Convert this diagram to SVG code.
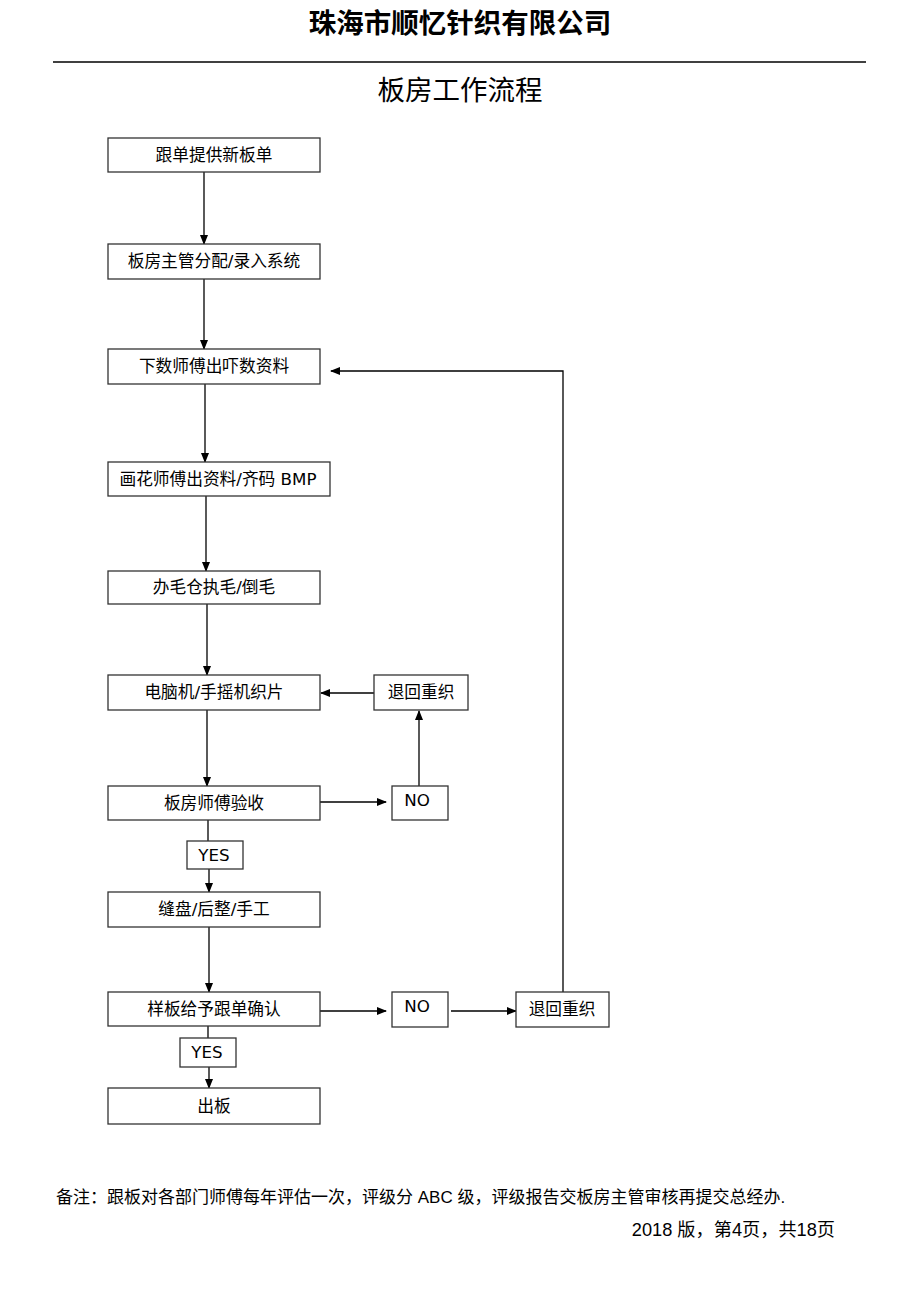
<svg xmlns="http://www.w3.org/2000/svg" width="920" height="1302" viewBox="0 0 920 1302">
<defs>
<marker id="ah" markerWidth="10" markerHeight="10" refX="9" refY="5" orient="auto" markerUnits="userSpaceOnUse">
<path d="M0,1 L10,5 L0,9 Z" fill="#000"/>
</marker>
<style>
.b{fill:#fff;stroke:#333;stroke-width:1.3}
.t{font-family:"DejaVu Sans","Noto Sans CJK SC",sans-serif;font-size:16.7px;fill:#000;text-anchor:middle}
.c{fill:none;stroke:#000;stroke-width:1.3}
.h{font-family:"Noto Sans CJK SC",sans-serif;fill:#000;text-anchor:middle}
.f{font-family:"Liberation Sans","Noto Sans CJK SC",sans-serif;font-size:17px;fill:#000}
.p{font-family:"Liberation Sans","Noto Sans CJK SC",sans-serif;font-size:18.2px;fill:#000;text-anchor:end}
</style>
</defs>
<rect width="920" height="1302" fill="#fff"/>
<text class="h" x="460" y="33" font-size="27.5" font-weight="bold">珠海市顺忆针织有限公司</text>
<line x1="53" y1="62" x2="866" y2="62" stroke="#000" stroke-width="1.5"/>
<text class="h" x="460" y="100" font-size="27.5">板房工作流程</text>

<g id="connectors">
<line class="c" x1="204" y1="172" x2="204" y2="244" marker-end="url(#ah)"/>
<line class="c" x1="204" y1="279" x2="204" y2="349" marker-end="url(#ah)"/>
<line class="c" x1="205" y1="384" x2="205" y2="462" marker-end="url(#ah)"/>
<line class="c" x1="206" y1="496" x2="206" y2="571" marker-end="url(#ah)"/>
<line class="c" x1="207" y1="604" x2="207" y2="675" marker-end="url(#ah)"/>
<line class="c" x1="207" y1="710" x2="207" y2="786" marker-end="url(#ah)"/>
<line class="c" x1="208" y1="820" x2="208" y2="841"/>
<line class="c" x1="209" y1="869" x2="209" y2="892" marker-end="url(#ah)"/>
<line class="c" x1="209" y1="927" x2="209" y2="992" marker-end="url(#ah)"/>
<line class="c" x1="208" y1="1026" x2="208" y2="1038"/>
<line class="c" x1="209" y1="1067" x2="209" y2="1088" marker-end="url(#ah)"/>
<line class="c" x1="374" y1="693" x2="321" y2="693" marker-end="url(#ah)"/>
<line class="c" x1="320" y1="802" x2="386" y2="802" marker-end="url(#ah)"/>
<line class="c" x1="419" y1="786" x2="419" y2="711" marker-end="url(#ah)"/>
<line class="c" x1="320" y1="1011" x2="386" y2="1011" marker-end="url(#ah)"/>
<line class="c" x1="451" y1="1011" x2="516" y2="1011" marker-end="url(#ah)"/>
<polyline class="c" points="563,992 563,371 331,371" marker-end="url(#ah)"/>
</g>

<g id="n1"><rect class="b" x="108" y="138" width="212" height="34"/><text class="t" x="214" y="161">跟单提供新板单</text></g>
<g id="n2"><rect class="b" x="108" y="244" width="212" height="35"/><text class="t" x="214" y="267">板房主管分配/录入系统</text></g>
<g id="n3"><rect class="b" x="108" y="349" width="212" height="35"/><text class="t" x="214" y="372">下数师傅出吓数资料</text></g>
<g id="n4"><rect class="b" x="108" y="462" width="222" height="34"/><text class="t" x="218" y="485">画花师傅出资料/齐码 BMP</text></g>
<g id="n5"><rect class="b" x="108" y="571" width="212" height="33"/><text class="t" x="214" y="593">办毛仓执毛/倒毛</text></g>
<g id="n6"><rect class="b" x="108" y="675" width="212" height="35"/><text class="t" x="214" y="698">电脑机/手摇机织片</text></g>
<g id="n7"><rect class="b" x="374" y="675" width="94" height="35"/><text class="t" x="421" y="698">退回重织</text></g>
<g id="n8"><rect class="b" x="108" y="786" width="212" height="34"/><text class="t" x="214" y="809">板房师傅验收</text></g>
<g id="n9"><rect class="b" x="392" y="786" width="56" height="34"/><text class="t" x="417" y="806">NO</text></g>
<g id="n10"><rect class="b" x="187" y="841" width="56" height="28"/><text class="t" x="214" y="861">YES</text></g>
<g id="n11"><rect class="b" x="108" y="892" width="212" height="35"/><text class="t" x="214" y="915">缝盘/后整/手工</text></g>
<g id="n12"><rect class="b" x="108" y="992" width="212" height="34"/><text class="t" x="214" y="1015">样板给予跟单确认</text></g>
<g id="n13"><rect class="b" x="392" y="992" width="56" height="35"/><text class="t" x="417" y="1012">NO</text></g>
<g id="n14"><rect class="b" x="516" y="992" width="93" height="35"/><text class="t" x="562" y="1015">退回重织</text></g>
<g id="n15"><rect class="b" x="180" y="1038" width="56" height="29"/><text class="t" x="207" y="1058">YES</text></g>
<g id="n16"><rect class="b" x="108" y="1088" width="212" height="36"/><text class="t" x="214" y="1112">出板</text></g>

<text class="f" x="56" y="1203">备注：跟板对各部门师傅每年评估一次，评级分 ABC 级，评级报告交板房主管审核再提交总经办.</text>
<text class="p" x="835" y="1236">2018 版，第4页，共18页</text>
</svg>
